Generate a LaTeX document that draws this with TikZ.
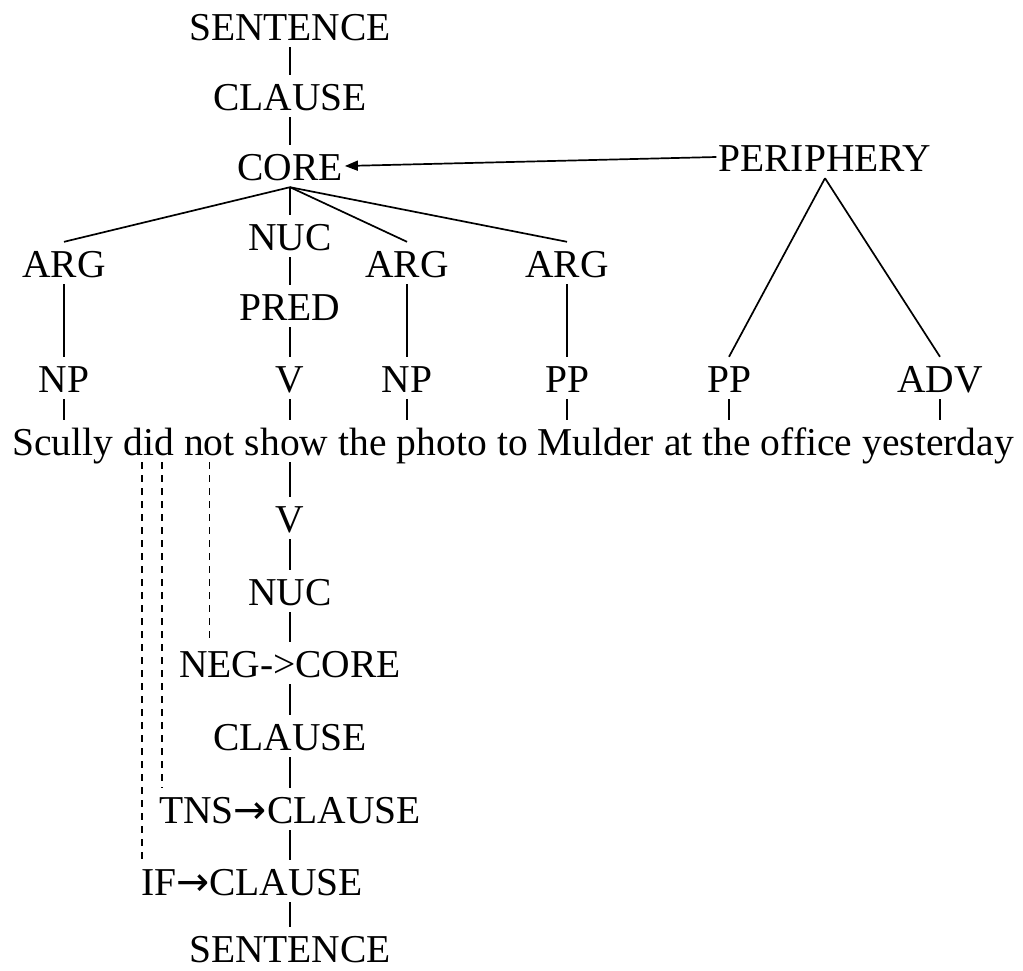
\documentclass[tikz,border=0pt]{standalone}
\usepackage{fontspec}
\setmainfont{Liberation Serif}
\newfontfamily\arrowfont{DejaVu Sans}
\usetikzlibrary{arrows.meta}

\newcommand{\opto}{{\arrowfont →}}

\tikzset{
  lab/.style={font=\fontsize{39.5}{47}\selectfont, text height=33pt, text depth=5pt,
              inner ysep=2pt, inner xsep=2pt, anchor=base},
  word/.style={lab, inner xsep=0pt, anchor=base west},
  edge/.style={line width=1.7pt},
  dashline/.style={line width=1.7pt, dash pattern=on 7pt off 6pt},
  tip/.style={-{Triangle[length=13pt,width=10pt]}}
}

\begin{document}
\begin{tikzpicture}[x=1pt, y=-1pt]
\useasboundingbox (0,0) rectangle (1023,970);

% the sentence, word by word
\node[word] (w1) at (12,455) {Scully};
\node[word] (w2) at ([xshift=9.9pt]w1.base east) {did};
\node[word] (w3) at ([xshift=9.9pt]w2.base east) {not};
\node[word] (w4) at ([xshift=9.9pt]w3.base east) {show};
\node[word] (w5) at ([xshift=9.9pt]w4.base east) {the photo};
\node[word] (w6) at ([xshift=9.9pt]w5.base east) {to Mulder};
\node[word] (w7) at ([xshift=9.9pt]w6.base east) {at the office};
\node[word] (w8) at ([xshift=9.9pt]w7.base east) {yesterday};

% constituent projection
\node[lab] (sent) at (290,40)  {SENTENCE};
\node[lab] (cl)   at (290,110) {CLAUSE};
\node[lab] (core) at (290,180) {CORE};
\node[lab] (per)  at (825,171) {PERIPHERY};
\node[lab] (arg1) at (64,277)  {ARG};
\node[lab] (nuc)  at (290,250) {NUC};
\node[lab] (arg2) at (407,277) {ARG};
\node[lab] (arg3) at (567,277) {ARG};
\node[lab] (pred) at (290,320) {PRED};
\node[lab] (np1)  at (64,392)  {NP};
\node[lab] (v1)   at (290,392) {V};
\node[lab] (np2)  at (407,392) {NP};
\node[lab] (pp1)  at (567,392) {PP};
\node[lab] (pp2)  at (729,392) {PP};
\node[lab] (adv)  at (940,392) {ADV};

\draw[edge] (sent.south) -- (cl.north);
\draw[edge] (cl.south) -- (core.north);
\draw[edge] (core.south) -- (arg1.north);
\draw[edge] (core.south) -- (nuc.north);
\draw[edge] (core.south) -- (arg2.north);
\draw[edge] (core.south) -- (arg3.north);
\draw[edge] (nuc.south) -- (pred.north);
\draw[edge] (pred.south) -- (v1.north);
\draw[edge] (arg1.south) -- (np1.north);
\draw[edge] (arg2.south) -- (np2.north);
\draw[edge] (arg3.south) -- (pp1.north);
\draw[edge] (per.south) -- (pp2.north);
\draw[edge] (per.south) -- (adv.north);
\draw[edge, tip] (per.west) -- (core.east);

\draw[edge] (np1.south) -- (np1.south |- w1.north);
\draw[edge] (v1.south)  -- (v1.south |- w4.north);
\draw[edge] (np2.south) -- (np2.south |- w5.north);
\draw[edge] (pp1.south) -- (pp1.south |- w6.north);
\draw[edge] (pp2.south) -- (pp2.south |- w7.north);
\draw[edge] (adv.south) -- (adv.south |- w8.north);

% operator projection
\node[lab] (v2)    at (290,532) {V};
\node[lab] (nuc2)  at (290,605) {NUC};
\node[lab] (neg)   at (290,677) {NEG->CORE};
\node[lab] (cl2)   at (290,750) {CLAUSE};
\node[lab] (tns)   at (290,823) {TNS\opto CLAUSE};
\node[lab] (illf)  at (252,895) {IF\opto CLAUSE};
\node[lab] (sent2) at (290,962) {SENTENCE};

\draw[edge] (v1.south |- w4.south) -- (v2.north);
\draw[edge] (v2.south) -- (nuc2.north);
\draw[edge] (nuc2.south) -- (neg.north);
\draw[edge] (neg.south) -- (cl2.north);
\draw[edge] (cl2.south) -- (tns.north);
\draw[edge] (tns.south) -- (tns.south |- illf.north);
\draw[edge] (sent2.north |- illf.south) -- (sent2.north);

% operator links
\coordinate (didIF)  at ([xshift=-7pt]w2.south);
\coordinate (didTNS) at ([xshift=13pt]w2.south);
\draw[dashline] (didIF) -- (didIF |- illf.north);
\draw[dashline] (didTNS) -- (didTNS |- tns.north);
\draw[dashline] (w3.south) -- (w3.south |- neg.north);
\end{tikzpicture}
\end{document}
